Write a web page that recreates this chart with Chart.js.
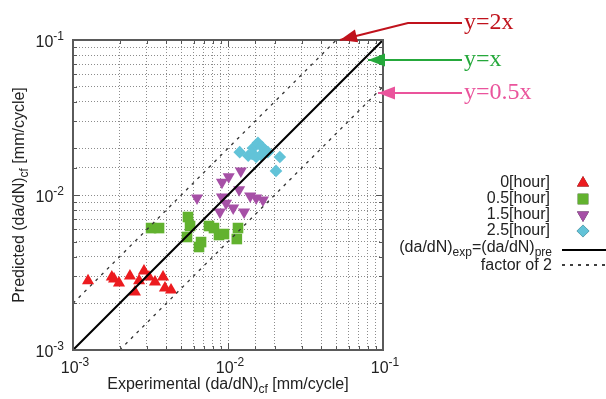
<!DOCTYPE html>
<html>
<head>
<meta charset="utf-8">
<script src="https://cdn.jsdelivr.net/npm/chart.js@4"></script>
<style>
  body { margin: 0; background: #fff; }
</style>
</head>
<body>
<canvas id="chart" width="606" height="399"></canvas>
<script>
// values [mm/cycle]
const hour0X = [1.25e-3, 1.78e-3, 1.84e-3, 1.98e-3, 2.33e-3, 2.67e-3, 2.87e-3, 2.51e-3, 3.09e-3, 3.38e-3, 3.81e-3, 3.92e-3, 4.29e-3];
const hour0Y = [2.80e-3, 2.96e-3, 2.87e-3, 2.71e-3, 3.00e-3, 2.80e-3, 3.23e-3, 2.37e-3, 2.96e-3, 2.75e-3, 2.96e-3, 2.51e-3, 2.44e-3];

const hour05X = [3.19e-3, 3.59e-3, 5.52e-3, 5.69e-3, 5.44e-3, 6.50e-3, 6.70e-3, 7.54e-3, 8.12e-3, 8.75e-3, 9.42e-3, 1.16e-2, 1.14e-2];
const hour05Y = [6.12e-3, 6.12e-3, 7.21e-3, 6.31e-3, 5.36e-3, 4.62e-3, 4.97e-3, 6.31e-3, 6.12e-3, 5.52e-3, 5.60e-3, 6.12e-3, 5.20e-3];

const hour15X = [6.31e-3, 9.14e-3, 1.01e-2, 1.21e-2, 9.14e-3, 9.71e-3, 8.87e-3, 1.08e-2, 1.18e-2, 1.27e-2, 1.39e-2, 1.52e-2, 1.68e-2];
const hour15Y = [9.56e-3, 1.21e-2, 1.31e-2, 1.43e-2, 9.71e-3, 8.86e-3, 7.77e-3, 8.24e-3, 1.08e-2, 7.77e-3, 9.86e-3, 9.56e-3, 9.28e-3];

const hour25X = [1.19e-2, 1.35e-2, 1.45e-2, 1.56e-2, 1.66e-2, 1.73e-2, 1.43e-2, 1.52e-2, 1.63e-2, 1.81e-2, 2.16e-2, 2.04e-2];
const hour25Y = [1.89e-2, 1.79e-2, 2.01e-2, 2.17e-2, 2.04e-2, 1.95e-2, 1.84e-2, 1.76e-2, 1.81e-2, 1.89e-2, 1.76e-2, 1.43e-2];

const axisMin = 1e-3;
const axisMax = 1e-1;
const decadeTicks = [1e-3, 1e-2, 1e-1];
const tickExp = ["-3", "-2", "-1"];

const seriesLabels = ["0[hour]", "0.5[hour]", "1.5[hour]", "2.5[hour]"];
const lineLabels = [[["(da/dN)"], ["exp", "sub"], ["=(da/dN)"], ["pre", "sub"]], [["factor of 2"]]];
const notes = ["y=2x", "y=x", "y=0.5x"];

const SANS = '"Liberation Sans", Arial, sans-serif';
const SERIF = '"Liberation Serif", "Times New Roman", serif';

let pairs = (xs, ys) => xs.map((x, i) => ({ x: x, y: ys[i] }));

// text with sub/superscripts, drawn piece by piece
let richText = (ctx, parts, x, y, align, size) => {
    let big = size + "px " + SANS;
    let small = Math.round(size * 0.75) + "px " + SANS;
    let w = 0;
    parts.forEach(p => { ctx.font = p[1] ? small : big; w += ctx.measureText(p[0]).width; });
    let cx = align === "right" ? x - w : align === "center" ? x - w / 2 : x;
    ctx.textAlign = "left";
    ctx.textBaseline = "middle";
    parts.forEach(p => {
        ctx.font = p[1] ? small : big;
        let dy = p[1] === "sub" ? size * 0.32 : p[1] === "sup" ? -size * 0.4 : 0;
        ctx.fillText(p[0], cx, y + dy);
        cx += ctx.measureText(p[0]).width;
    });
};

let arrow = (ctx, pts, color) => {
    ctx.save();
    ctx.strokeStyle = color;
    ctx.fillStyle = color;
    ctx.lineWidth = 2;
    ctx.beginPath();
    ctx.moveTo(pts[0][0], pts[0][1]);
    pts.slice(1).forEach(p => ctx.lineTo(p[0], p[1]));
    ctx.stroke();
    let a = pts[pts.length - 2], b = pts[pts.length - 1];
    let ang = Math.atan2(b[1] - a[1], b[0] - a[0]);
    let len = 17, half = 6.5;
    let bx = b[0] - Math.cos(ang) * len, by = b[1] - Math.sin(ang) * len;
    ctx.beginPath();
    ctx.moveTo(b[0], b[1]);
    ctx.lineTo(bx - Math.sin(ang) * half, by + Math.cos(ang) * half);
    ctx.lineTo(bx + Math.sin(ang) * half, by - Math.cos(ang) * half);
    ctx.closePath();
    ctx.fill();
    ctx.restore();
};

const decorations = {
    id: "decorations",
    afterDraw(chart) {
        let ctx = chart.ctx;
        let area = chart.chartArea;
        let xs = chart.scales.x, ys = chart.scales.y;
        ctx.save();

        // inward ticks on all four sides
        ctx.strokeStyle = "#555";
        ctx.lineWidth = 1;
        ctx.beginPath();
        xs.ticks.forEach(t => {
            let px = Math.round(xs.getPixelForValue(t.value)) + 0.5;
            let l = decadeTicks.includes(t.value) ? 7 : 4;
            ctx.moveTo(px, area.bottom); ctx.lineTo(px, area.bottom - l);
            ctx.moveTo(px, area.top); ctx.lineTo(px, area.top + l);
        });
        ys.ticks.forEach(t => {
            let py = Math.round(ys.getPixelForValue(t.value)) + 0.5;
            let l = decadeTicks.includes(t.value) ? 7 : 4;
            ctx.moveTo(area.left, py); ctx.lineTo(area.left + l, py);
            ctx.moveTo(area.right, py); ctx.lineTo(area.right - l, py);
        });
        ctx.stroke();

        // frame
        ctx.strokeStyle = "#5a5a5a";
        ctx.lineWidth = 2;
        ctx.strokeRect(area.left, area.top, area.right - area.left, area.bottom - area.top);

        // tick labels
        ctx.fillStyle = "#222";
        decadeTicks.forEach((v, i) => {
            let parts = [["10"], [tickExp[i], "sup"]];
            richText(ctx, parts, xs.getPixelForValue(v) + 2, area.bottom + 19, "center", 16);
            richText(ctx, parts, area.left - 9, ys.getPixelForValue(v) + 3, "right", 16);
        });

        // axis titles
        richText(ctx, [["Experimental (da/dN)"], ["cf", "sub"], [" [mm/cycle]"]], (area.left + area.right) / 2, 385, "center", 16);
        ctx.save();
        ctx.translate(20, (area.top + area.bottom) / 2);
        ctx.rotate(-Math.PI / 2);
        richText(ctx, [["Predicted (da/dN)"], ["cf", "sub"], [" [mm/cycle]"]], 0, 0, "center", 16);
        ctx.restore();

        // legend on the right
        let rows = [183, 199, 215, 231];
        let pointSets = chart.data.datasets.slice(3);
        rows.forEach((y, i) => {
            ctx.fillStyle = "#222";
            richText(ctx, [[seriesLabels[i]]], 550, y, "right", 16);
            let ds = pointSets[i];
            Chart.helpers.drawPoint(ctx, {
                pointStyle: ds.pointStyle, rotation: ds.rotation || 0,
                radius: ds.pointRadius, borderWidth: 0
            }, 583, y);
            ctx.fillStyle = ds.backgroundColor;
            ctx.fill();
        });
        ctx.fillStyle = "#222";
        richText(ctx, lineLabels[0], 552, 248, "right", 16);
        richText(ctx, lineLabels[1], 552, 266, "right", 16);
        ctx.strokeStyle = "#000";
        ctx.lineWidth = 2;
        ctx.beginPath(); ctx.moveTo(562, 250); ctx.lineTo(606, 250); ctx.stroke();
        ctx.lineWidth = 1.3;
        ctx.setLineDash([3, 5]);
        ctx.beginPath(); ctx.moveTo(562, 265); ctx.lineTo(606, 265); ctx.stroke();
        ctx.setLineDash([]);

        // call-outs for the reference lines
        arrow(ctx, [[462, 23], [408, 23], [340, 40]], "#c0121c");
        arrow(ctx, [[462, 60], [368, 60]], "#25a83b");
        arrow(ctx, [[462, 93], [378, 93]], "#ea549c");
        ctx.font = "24px " + SERIF;
        ctx.textAlign = "left";
        ctx.textBaseline = "middle";
        ctx.fillStyle = "#c0121c"; ctx.fillText(notes[0], 464, 23);
        ctx.fillStyle = "#25a83b"; ctx.fillText(notes[1], 464, 60);
        ctx.fillStyle = "#ea549c"; ctx.fillText(notes[2], 464, 93);

        ctx.restore();
    }
};

let logScale = (fit) => ({
    type: "logarithmic",
    min: axisMin,
    max: axisMax,
    ticks: { display: false },
    grid: { color: "#8c8c8c", lineWidth: 1, drawTicks: false },
    border: { display: false, dash: [1, 2] },
    afterFit: fit
});

const chart = new Chart("chart", {
    type: "scatter",
    data: {
        datasets: [
            {
                data: [{ x: axisMin, y: axisMin }, { x: axisMax, y: axisMax }],
                showLine: true, borderColor: "#000", borderWidth: 2, pointRadius: 0
            },
            {
                data: [{ x: axisMin, y: 2 * axisMin }, { x: axisMax / 2, y: axisMax }],
                showLine: true, borderColor: "#333", borderWidth: 1.3, borderDash: [3, 5], pointRadius: 0
            },
            {
                data: [{ x: 2 * axisMin, y: axisMin }, { x: axisMax, y: axisMax / 2 }],
                showLine: true, borderColor: "#333", borderWidth: 1.3, borderDash: [3, 5], pointRadius: 0
            },
            {
                data: pairs(hour0X, hour0Y), pointStyle: "triangle", pointRadius: 7,
                backgroundColor: "#ec1b1f", borderWidth: 0
            },
            {
                data: pairs(hour05X, hour05Y), pointStyle: "rect", pointRadius: 7.5,
                backgroundColor: "#62b22f", borderWidth: 0
            },
            {
                data: pairs(hour15X, hour15Y), pointStyle: "triangle", rotation: 180, pointRadius: 7,
                backgroundColor: "#a650a6", borderWidth: 0
            },
            {
                data: pairs(hour25X, hour25Y), pointStyle: "rectRot", pointRadius: 6.3,
                backgroundColor: "#62c3d8", borderWidth: 0
            }
        ]
    },
    options: {
        responsive: false,
        animation: false,
        layout: { padding: { left: 0, top: 40, right: 223, bottom: 0 } },
        plugins: { legend: { display: false }, tooltip: { enabled: false } },
        scales: {
            x: logScale(s => { s.height = 49; }),
            y: logScale(s => { s.width = 73; })
        }
    },
    plugins: [decorations]
});
</script>
</body>
</html>
